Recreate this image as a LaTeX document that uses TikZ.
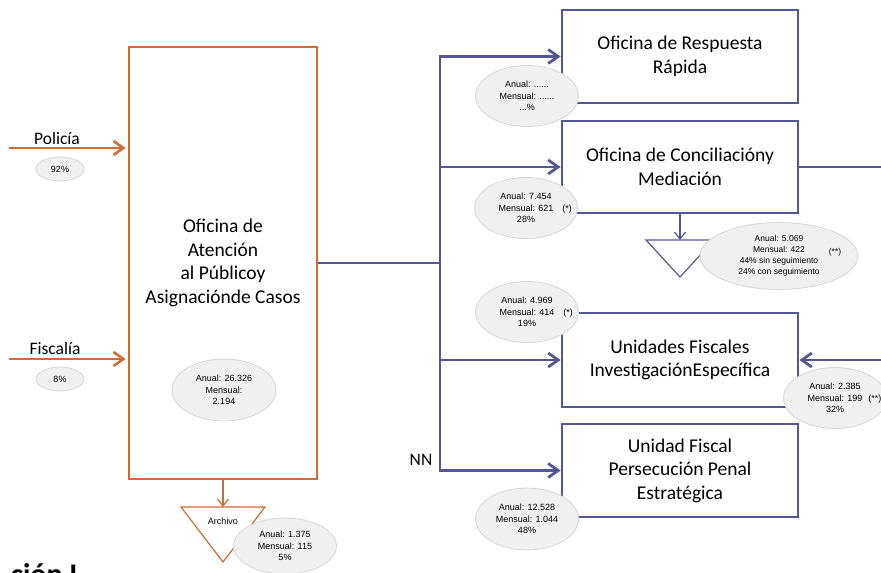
\documentclass[tikz,border=0pt]{standalone}
\usepackage{fontspec}
\setmainfont{Carlito}
\newfontfamily\arialfont{Liberation Sans}
\usepackage{tikz}
\usetikzlibrary{arrows.meta,shapes.geometric,positioning}
\definecolor{naranja}{RGB}{206,108,52}
\definecolor{azul}{RGB}{84,86,150}
\definecolor{grisfondo}{RGB}{240,240,240}
\definecolor{grisborde}{RGB}{214,214,214}
\newcommand{\fuenteoficina}{\fontsize{19.5}{23.5}\selectfont}
\newcommand{\fuenteetiqueta}{\fontsize{17.5}{20}\selectfont}
\newcommand{\fuentedato}{\arialfont\fontsize{9}{11.5}\selectfont}
\newcommand{\fuentedatochica}{\arialfont\fontsize{8.5}{11}\selectfont}

\begin{document}
\begin{tikzpicture}[x=1pt,y=-1pt,
	oficina/.style={draw=azul,line width=2.8pt,minimum width=236pt,minimum height=93pt,inner sep=0pt,align=center,font=\fuenteoficina},
	dato/.style={ellipse,draw=grisborde,fill=grisfondo,line width=0.8pt,minimum width=103pt,minimum height=61pt,inner sep=0pt,align=center,font=\fuentedato},
	linea/.style={azul,line width=2.8pt},
	flecha/.style={linea,-{Straight Barb[length=10pt,width=14pt]}},
	flechanaranja/.style={naranja,line width=2.6pt,-{Straight Barb[length=10pt,width=14pt]}},
	flechita/.style={line width=1.2pt,-{Straight Barb[length=7pt,width=11pt]}}]
	\useasboundingbox (0,0) rectangle (881,573);
	\clip (0,0) rectangle (881,573);

	% oficina de entrada
	\node[draw=naranja,line width=2.6pt,minimum width=188pt,minimum height=432pt,align=center,font=\fuenteoficina] (atencion) at (223,263) {Oficina de\\Atención\\al Públicoy\\Asignaciónde Casos};

	% oficinas de destino
	\node[oficina] (respuesta) at (680,56.5) {Oficina de Respuesta\\Rápida};
	\node[oficina,minimum height=92pt] (conciliacion) at (680,167) {Oficina de Conciliacióny\\Mediación};
	\node[oficina,minimum height=94pt] (unidades) at (680,360) {Unidades Fiscales\\InvestigaciónEspecífica};
	\node[oficina] (persecucion) at (680,470.5) {Unidad Fiscal\\Persecución Penal\\Estratégica};

	% ingresos
	\coordinate (policia) at (9,148);
	\coordinate (fiscalia) at (9,359);
	\draw[flechanaranja,shorten >=2pt] (policia) -- (policia -| atencion.west);
	\draw[flechanaranja,shorten >=2pt] (fiscalia) -- (fiscalia -| atencion.west);
	\node[font=\fuenteetiqueta] (lpolicia) at (57,138) {Policía};
	\node[font=\fuenteetiqueta] (lfiscalia) at (55,348) {Fiscalía};

	% reparto
	\coordinate (bus) at (440,263);
	\draw[linea] (atencion.east) -- (bus);
	\draw[flecha] (bus) |- (respuesta.west);
	\draw[flecha] (bus) |- (persecucion.west);
	\draw[flecha] (conciliacion.west -| bus) -- (conciliacion.west);
	\draw[flecha] (unidades.west -| bus) -- (unidades.west);
	\node[font=\fuenteetiqueta] (nn) at (421,460) {NN};

	\coordinate (salida) at (881,167);
	\coordinate (entrada) at (881,360);
	\draw[linea] (conciliacion.east) -- (salida);
	\draw[flecha] (entrada) -- (unidades.east);

	% archivo
	\coordinate (archivo) at (223,507);
	\draw[flechita,naranja] (atencion.south) -- (archivo);
	\draw[naranja,line width=1.2pt] (archivo) ++(-42,0) -- ++(84,0) -- (223,562) -- cycle;
	\node[font=\fuentedato] (tarchivo) at (223,521) {Archivo};

	\coordinate (derivacion) at (680,240);
	\draw[flechita,azul] (conciliacion.south) -- (derivacion);
	\draw[azul,line width=1.2pt] (derivacion) ++(-34,0) -- ++(68,0) -- (680,277) -- cycle;

	% cifras
	\node[dato,minimum width=48pt,minimum height=24pt] (dpolicia) at (60,169) {92\%};
	\node[dato,minimum width=48pt,minimum height=24pt] (dfiscalia) at (60,379) {8\%};
	\node[dato,minimum width=104pt,minimum height=62pt] (datencion) at (224,390) {Anual: 26.326\\Mensual:\\2.194};
	\node[dato,minimum height=56pt] (darchivo) at (285,546) {Anual: 1.375\\Mensual: 115\\5\%};
	\node[dato] (drespuesta) at (527,96) {Anual: ......\\Mensual: ......\\...\%};
	\node[dato] (dconciliacion) at (526,208) {Anual: 7.454\\Mensual: 621\rlap{\hspace{9pt}(*)}\\28\%};
	\node[dato,minimum width=158pt,minimum height=67pt,font=\fuentedatochica] (dmediacion) at (779,256) {Anual: 5.069\\Mensual: 422\rlap{\hspace{24pt}\raisebox{-2pt}{(**)}}\\44\% sin seguimiento\\24\% con seguimiento};
	\node[dato] (dunidades) at (527,312) {Anual: 4.969\\Mensual: 414\rlap{\hspace{9pt}(*)}\\19\%};
	\node[dato] (dexterna) at (835,398) {Anual: 2.385\\Mensual: 199\rlap{\hspace{6pt}(**)}\\32\%};
	\node[dato,minimum height=62pt] (dpersecucion) at (527,519) {Anual: 12.528\\Mensual: 1.044\\48\%};

	\node[anchor=base east,font=\fontsize{30}{36}\selectfont\bfseries] (titulo) at (81,584) {ción I};
\end{tikzpicture}
\end{document}
